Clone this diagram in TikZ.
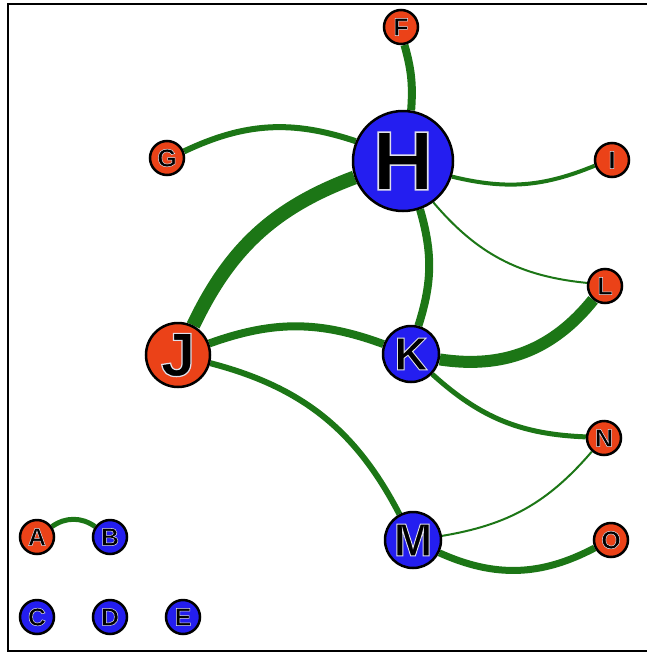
\documentclass[tikz,border=0pt]{standalone}
\usepackage{fontspec}
\setmainfont{Liberation Sans}
\usepackage{tikz}
\definecolor{nodered}{RGB}{235,66,24}
\definecolor{nodeblue}{RGB}{36,30,240}
\definecolor{edgegreen}{RGB}{28,118,22}
\pgfdeclarelayer{bg}
\pgfsetlayers{bg,main}
% black letter with a thin light outline
\newcommand{\lbl}[2]{\pgfmathsetmacro\strokew{#1/50}%
	\fontsize{#1}{#1}\selectfont\bfseries
	\special{pdf:code q 2 Tr \strokew\space w 0.88 0.88 0.92 RG}#2\special{pdf:code Q}}

\begin{document}
\begin{tikzpicture}[x=1pt, y=-1pt,
		every node/.style={circle, draw=black, line width=2.5pt, inner sep=0pt},
		red/.style={fill=nodered},
		blue/.style={fill=nodeblue},
		small/.style={minimum size=34pt},
		mid/.style={minimum size=56pt},
		link/.style={draw=edgegreen}]
	\useasboundingbox (0,0) rectangle (647,654);
	\draw[line width=2pt] (647,4) -- (8,4) -- (8,651) -- (647,651);

	\node[blue, minimum size=100pt] (H) at (403,161) {\lbl{84}{H}};
	\node[red, minimum size=64pt] (J) at (178,355) {\lbl{62}{J}};
	\node[blue, mid] (K) at (411,354) {\lbl{46}{K}};
	\node[blue, mid] (M) at (413,540) {\lbl{46}{M}};
	\node[red, small] (F) at (401,27) {\lbl{25}{F}};
	\node[red, small] (G) at (167,158) {\lbl{25}{G}};
	\node[red, small] (I) at (612,160) {\lbl{25}{I}};
	\node[red, small] (L) at (605,286) {\lbl{25}{L}};
	\node[red, small] (N) at (604,438) {\lbl{25}{N}};
	\node[red, small] (O) at (611,540) {\lbl{25}{O}};
	\node[red, small] (A) at (37,537) {\lbl{25}{A}};
	\node[blue, small] (B) at (110,537) {\lbl{25}{B}};
	\node[blue, small] (C) at (37,617) {\lbl{25}{C}};
	\node[blue, small] (D) at (110,617) {\lbl{25}{D}};
	\node[blue, small] (E) at (183,617) {\lbl{25}{E}};

	\begin{pgfonlayer}{bg}
		\path [link, line width=8pt] (F) edge[bend left=10] (H);
		\path [link, line width=6pt] (G) edge[bend left=22] (H);
		\path [link, line width=14pt] (H) edge[bend right=22] (J);
		\path [link, line width=4pt] (H) edge[bend right=18] (I);
		\path [link, line width=2pt] (H) edge[bend right=22] (L);
		\path [link, line width=8pt] (H) edge[bend left=17] (K);
		\path [link, line width=12pt] (K) edge[bend right=30] (L);
		\path [link, line width=8pt] (J) edge[bend left=20] (K);
		\path [link, line width=6pt] (J) edge[bend left=24] (M);
		\path [link, line width=5pt] (K) edge[bend right=20] (N);
		\path [link, line width=2pt] (M) edge[bend right=20] (N);
		\path [link, line width=7pt] (M) edge[bend right=26] (O);
		\path [link, line width=5pt] (A) edge[bend left=35] (B);
	\end{pgfonlayer}
\end{tikzpicture}
\end{document}
